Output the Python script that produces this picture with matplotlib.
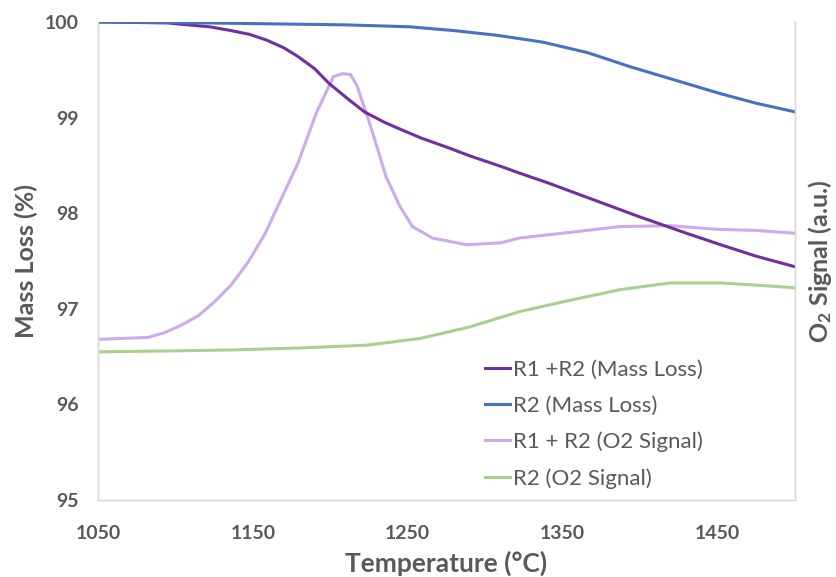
import matplotlib.pyplot as plt

# values
temp_r12_mass = [1050, 1075, 1095, 1108, 1122, 1136, 1148, 1159, 1170, 1179, 1190, 1199, 1211, 1222, 1235, 1245, 1258, 1277, 1290, 1310, 1322, 1340, 1370, 1400, 1430, 1452, 1475, 1500]
mass_r12 = [100.0, 99.995, 99.99, 99.97, 99.95, 99.91, 99.87, 99.81, 99.73, 99.64, 99.51, 99.36, 99.20, 99.06, 98.95, 98.88, 98.79, 98.68, 98.60, 98.49, 98.42, 98.32, 98.14, 97.96, 97.79, 97.67, 97.55, 97.44]

temp_r2_mass = [1050, 1100, 1165, 1210, 1251, 1280, 1308, 1337, 1366, 1394, 1423, 1452, 1475, 1500]
mass_r2 = [100.0, 99.995, 99.98, 99.97, 99.95, 99.91, 99.86, 99.79, 99.68, 99.53, 99.39, 99.25, 99.15, 99.06]

temp_r12_o2 = [1050, 1065, 1082, 1093, 1104, 1115, 1125, 1136, 1147, 1158, 1168, 1179, 1191, 1200, 1202, 1208, 1213, 1217, 1224, 1230, 1236, 1245, 1253, 1266, 1288, 1310, 1322, 1355, 1387, 1419, 1451, 1475, 1500]
o2_r12 = [96.68, 96.69, 96.70, 96.75, 96.83, 96.93, 97.07, 97.25, 97.49, 97.79, 98.14, 98.52, 99.05, 99.36, 99.43, 99.46, 99.45, 99.34, 99.01, 98.70, 98.38, 98.07, 97.86, 97.74, 97.67, 97.69, 97.74, 97.80, 97.86, 97.87, 97.83, 97.82, 97.79]

temp_r2_o2 = [1050, 1100, 1137, 1180, 1224, 1258, 1290, 1322, 1355, 1387, 1419, 1452, 1473, 1500]
o2_r2 = [96.55, 96.56, 96.57, 96.59, 96.62, 96.69, 96.81, 96.97, 97.09, 97.20, 97.27, 97.27, 97.25, 97.22]

labels = ["R1 +R2 (Mass Loss)", "R2 (Mass Loss)", "R1 + R2 (O2 Signal)", "R2 (O2 Signal)"]
colours = ["#7030a0", "#4472c4", "#cdaae8", "#a9d18e"]

grey = "#595959"
spine = "#d9d9d9"

plt.rcParams["font.family"] = "Lato"
plt.rcParams["mathtext.fontset"] = "custom"
plt.rcParams["mathtext.rm"] = "Lato:bold"
plt.rcParams["mathtext.default"] = "regular"

fig = plt.figure(figsize=(8.36, 5.77), dpi=100)
ax = fig.add_axes([98 / 836, 1 - 500 / 577, 697 / 836, 478 / 577])
ax2 = ax.twinx()

l1, = ax.plot(temp_r12_mass, mass_r12, color=colours[0], lw=2.2)
l2, = ax.plot(temp_r2_mass, mass_r2, color=colours[1], lw=2.2)
l3, = ax2.plot(temp_r12_o2, o2_r12, color=colours[2], lw=2.2)
l4, = ax2.plot(temp_r2_o2, o2_r2, color=colours[3], lw=2.2)
ax.set_zorder(ax2.get_zorder() + 1)
ax.patch.set_visible(False)

for a in (ax, ax2):
    a.set_xlim(1050, 1500)
    a.set_ylim(95, 100)
    a.spines["top"].set_visible(False)
    for s in ("left", "right", "bottom"):
        a.spines[s].set_color(spine)
        a.spines[s].set_linewidth(1.0)

ax.set_xticks([1050, 1150, 1250, 1350, 1450])
ax.set_yticks([95, 96, 97, 98, 99, 100])
ax.tick_params(length=0, labelsize=14, labelcolor=grey)
ax.tick_params(axis="x", pad=18)
ax.tick_params(axis="y", pad=14)
for t in ax.get_xticklabels() + ax.get_yticklabels():
    t.set_fontweight("bold")
ax2.set_yticks([])

ax.set_xlabel("Temperature (°C)", fontsize=19, fontweight="bold", color=grey, labelpad=6)
ax.set_ylabel("Mass Loss (%)", fontsize=18, fontweight="bold", color=grey, labelpad=5)
ax2.set_ylabel("O$_2$ Signal (a.u.)", fontsize=18, fontweight="bold", color=grey, labelpad=8)

leg = ax.legend(
    [l1, l2, l3, l4],
    labels,
    loc="upper left",
    bbox_to_anchor=(0.555, 0.294),
    frameon=False,
    borderpad=0,
    borderaxespad=0,
    handlelength=1.15,
    handletextpad=0.12,
    labelspacing=0.72,
    fontsize=16,
)
for t in leg.get_texts():
    t.set_color(grey)

fig.savefig("out.png", dpi=100)
